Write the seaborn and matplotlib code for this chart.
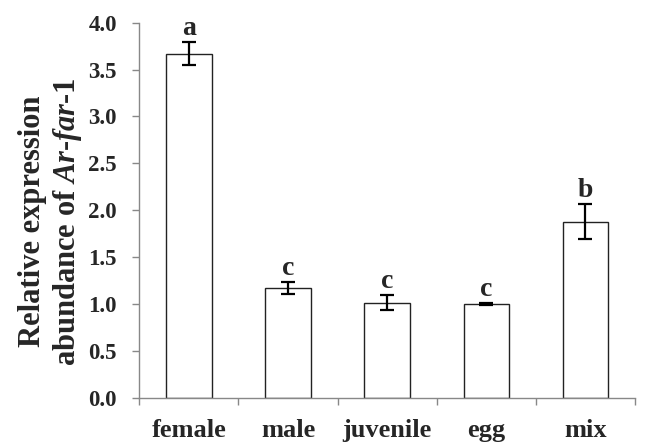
import matplotlib
matplotlib.use("Agg")
import matplotlib.pyplot as plt
import seaborn as sns
import pandas as pd
import numpy as np

categories = ["female", "male", "juvenile", "egg", "mix"]
values = [3.67, 1.17, 1.013, 1.00, 1.88]
errors = [0.12, 0.06, 0.08, 0.01, 0.19]
letters = ["a", "c", "c", "c", "b"]
yticks = [0.0, 0.5, 1.0, 1.5, 2.0, 2.5, 3.0, 3.5, 4.0]

sns.set_style("white")
plt.rcParams["font.family"] = ["Liberation Serif", "DejaVu Serif"]
plt.rcParams["mathtext.fontset"] = "custom"
plt.rcParams["mathtext.it"] = "Liberation Serif:italic:bold"
plt.rcParams["mathtext.rm"] = "Liberation Serif:bold"

df = pd.DataFrame({"stage": categories, "value": values})

fig = plt.figure(figsize=(6.48, 4.45), dpi=100)
ax = fig.add_axes([0.215, 0.106, 0.765, 0.843])
sns.barplot(data=df, x="stage", y="value", order=categories, color="white",
            edgecolor="#222222", linewidth=1.0, width=0.46, errorbar=None, ax=ax)

xs = [p.get_x() + p.get_width() / 2 for p in ax.patches]
ax.errorbar(xs, values, yerr=errors, fmt="none", ecolor="black",
            elinewidth=1.6, capsize=5, capthick=1.6, zorder=5)
for x, v, e, l in zip(xs, values, errors, letters):
    ax.text(x, v + e + 0.075, l, ha="center", va="baseline", fontsize=20,
            fontweight="bold")

ax.set_ylim(0, 4.0)
ax.set_xlim(-0.5, 4.5)
ax.set_yticks(yticks)
ax.set_yticklabels([f"{t:.1f}" for t in yticks], fontsize=16.5, fontweight="bold")
ax.set_xticks(range(len(categories)))
ax.set_xticklabels(categories, fontsize=19, fontweight="bold")
ax.set_xticks(np.arange(-0.5, 4.6, 1.0), minor=True)
ax.tick_params(axis="x", which="major", length=0, pad=15)
ax.tick_params(axis="x", which="minor", length=5, width=1, color="#888888", direction="out", bottom=True)
ax.tick_params(axis="y", length=5, width=1, color="#888888", direction="out", left=True, pad=11)
for s in ["top", "right"]:
    ax.spines[s].set_visible(False)
for s in ["left", "bottom"]:
    ax.spines[s].set_color("#888888")
    ax.spines[s].set_linewidth(1.0)
ax.set_xlabel("")
ax.set_ylabel("Relative expression\nabundance of $\\mathit{Ar}$-$\\mathit{far}$-$\\mathit{1}$",
              fontsize=22, fontweight="bold", linespacing=1.2, labelpad=3)
ax.yaxis.label.set_y(0.47)

fig.savefig("out.png", dpi=100)
